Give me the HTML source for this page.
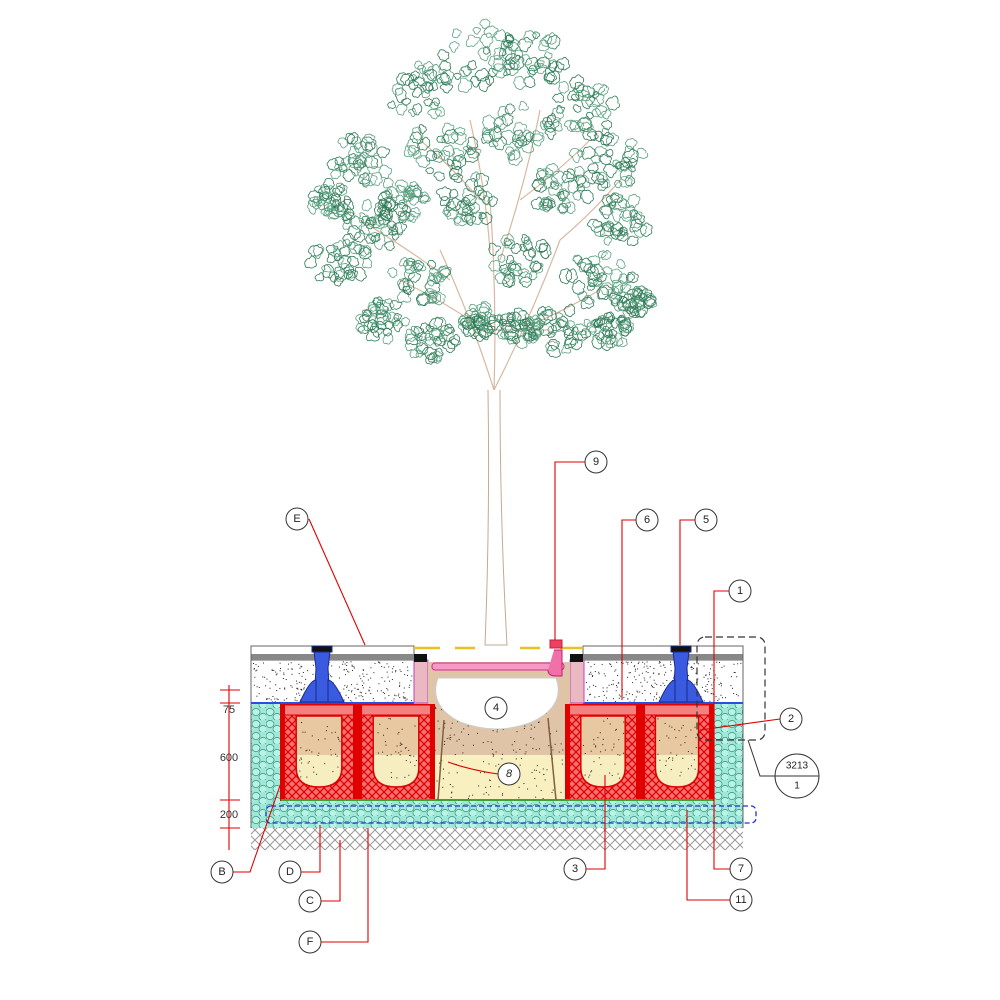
<!DOCTYPE html>
<html><head><meta charset="utf-8"><style>
html,body{margin:0;padding:0;background:#fff;width:1000px;height:1000px;overflow:hidden}
svg{display:block}
text{font-family:"Liberation Sans",sans-serif;font-size:11px;fill:#222;text-anchor:middle;dominant-baseline:central}
</style></head><body>
<svg id="s" width="1000" height="1000" viewBox="0 0 1000 1000" xmlns="http://www.w3.org/2000/svg">
<defs>
<pattern id="hatch" width="10" height="10" patternUnits="userSpaceOnUse">
<rect width="10" height="10" fill="#fff"/>
<path d="M0 5 L5 0 M5 10 L10 5 M0 5 L5 10 M5 0 L10 5" stroke="#999" stroke-width="1" fill="none"/>
</pattern>
<pattern id="grav" width="14" height="12" patternUnits="userSpaceOnUse">
<rect width="14" height="12" fill="#9ee8d8"/>
<ellipse cx="4" cy="4" rx="4" ry="3.5" fill="#b8f3e6" stroke="#3a8f7a" stroke-width="0.7"/>
<ellipse cx="11" cy="9" rx="4" ry="3.5" fill="#b8f3e6" stroke="#3a8f7a" stroke-width="0.7"/>
</pattern>
<pattern id="crate" width="8" height="8" patternUnits="userSpaceOnUse">
<rect width="8" height="8" fill="#f27070"/>
<path d="M0 0L8 8M8 0L0 8" stroke="#e00000" stroke-width="1.2"/>
</pattern>
</defs>
<g id="tree"></g>
<rect x="251" y="828" width="492" height="22" fill="url(#hatch)"/>
<rect x="251" y="703" width="30" height="125" fill="url(#grav)"/>
<rect x="713" y="703" width="30" height="125" fill="url(#grav)"/>
<rect x="251" y="800" width="492" height="28" fill="url(#grav)"/>
<rect x="280" y="703" width="433" height="52" fill="#e0c4a8"/>
<rect x="280" y="755" width="433" height="45" fill="#f8f0c0"/>
<rect x="251" y="660" width="163" height="43" fill="#fff"/>
<rect x="583" y="660" width="160" height="43" fill="#fff"/>
<g id="dots"></g>
<g id="crates"></g>
<rect x="251" y="646" width="163" height="14" fill="#fff" stroke="#666" stroke-width="1"/>
<rect x="251" y="654" width="163" height="6" fill="#888"/>
<rect x="583" y="646" width="160" height="14" fill="#fff" stroke="#666" stroke-width="1"/>
<rect x="583" y="654" width="160" height="6" fill="#888"/>
<line x1="251" y1="646" x2="251" y2="828" stroke="#666"/>
<line x1="743" y1="646" x2="743" y2="828" stroke="#666"/>
<line x1="251" y1="703" x2="414" y2="703" stroke="#2a4fe0" stroke-width="2"/>
<line x1="583" y1="703" x2="743" y2="703" stroke="#2a4fe0" stroke-width="2"/>
<line x1="281" y1="800" x2="713" y2="800" stroke="#3aa040" stroke-width="2"/>
<rect x="266" y="806" width="490" height="17" rx="5" fill="none" stroke="#2233cc" stroke-width="1.3" stroke-dasharray="5,3"/>
<g fill="#3a5ae0" stroke="#1a2a90" stroke-width="1">
<rect x="312" y="646" width="20" height="6" fill="#111"/>
<path d="M314 652 L330 652 L328 668 L330 702 L314 702 L316 668Z"/>
<path d="M300 702 Q310 680 316 680 L316 702Z"/><path d="M344 702 Q334 680 328 680 L328 702Z"/>
<rect x="671" y="646" width="20" height="6" fill="#111"/>
<path d="M673 652 L689 652 L687 668 L689 702 L673 702 L675 668Z"/>
<path d="M659 702 Q669 680 675 680 L675 702Z"/><path d="M703 702 Q693 680 687 680 L687 702Z"/>
</g>
<rect x="414" y="660" width="14" height="43" fill="#e9b8c0" stroke="#c040c0"/>
<rect x="570" y="660" width="14" height="43" fill="#e9b8c0" stroke="#c040c0"/>
<rect x="414" y="654" width="13" height="8" fill="#111"/>
<rect x="570" y="654" width="13" height="8" fill="#111"/>
<rect x="428" y="662" width="142" height="41" fill="#e0c4a8"/>
<path d="M414 648 L440 648 M455 648 L475 648 M520 648 L540 648 M560 648 L583 648" stroke="#e8c020" stroke-width="2.5"/>
<rect x="432" y="663" width="132" height="7" rx="3" fill="#f59ac8" stroke="#d0308a"/>
<path d="M548 670 Q548 676 556 676 L562 676 L562 650 L554 650" fill="#f070a8" stroke="#c02070"/>
<rect x="550" y="640" width="12" height="8" fill="#f04060" stroke="#c02040"/>
<path d="M438 678 L556 678 Q566 706 532 722 Q496 736 460 722 Q428 706 438 678Z" fill="#fff" stroke="#ccc"/>
<path d="M444 720 L438 800 M548 718 L556 800" stroke="#806040" stroke-width="1.5"/>
<path d="M488 390 Q490 520 485 645 L507 645 Q500 520 500 390" fill="#fff" stroke="#c8a890" stroke-width="1"/>
<rect x="697" y="637" width="68" height="103" rx="8" fill="none" stroke="#333" stroke-dasharray="7,4" stroke-width="1.2"/>
<g stroke="#e00000" stroke-width="1.1" fill="none">
<path d="M309 519 L365 645"/>
<path d="M585 462 L555 462 L555 640"/>
<path d="M636 520 L622 520 L622 700"/>
<path d="M695 520 L680 520 L680 645"/>
<path d="M729 591 L714 591 L714 869 L730 869"/>
<path d="M780 719 L700 730"/>
<path d="M586 869 L605 869 L605 775"/>
<path d="M730 900 L687 900 L687 810"/>
<path d="M233 872 L250 872 L282 780"/>
<path d="M301 872 L320 872 L320 825"/>
<path d="M321 901 L340 901 L340 840"/>
<path d="M321 942 L368 942 L368 828"/>
<path d="M498 774 Q470 770 448 762"/>
<path d="M229 685 L229 850"/>
<path d="M220 690 L240 690 M220 703 L240 703 M220 800 L240 800 M220 828 L240 828"/>
</g>
<g stroke="#333" fill="none"><path d="M748 740 L760 776 L775 776"/></g>
<text x="229" y="710" style="fill:#333">75</text>
<text x="229" y="758" style="fill:#333">600</text>
<text x="229" y="815" style="fill:#333">200</text>
<circle cx="797" cy="776" r="22" fill="#fff" stroke="#333"/>
<line x1="775" y1="776" x2="819" y2="776" stroke="#333"/>
<text x="797" y="766" style="font-size:10px">3213</text>
<text x="797" y="786" style="font-size:10px">1</text>
</svg>
<script>
var NS="http://www.w3.org/2000/svg";
function el(p,t,a){var e=document.createElementNS(NS,t);for(var k in a)e.setAttribute(k,a[k]);p.appendChild(e);return e;}
var seed=7;function r(){seed=(seed*16807)%2147483647;return seed/2147483647;}
var tr=document.getElementById("tree");
var br=[[494,390,440,250],[494,390,560,240],[470,320,400,280],[520,330,600,290],[494,390,490,200],[490,250,470,120],[500,260,540,110],[450,280,360,220],[560,240,620,180],[480,200,420,140],[520,200,590,140],[494,330,550,330]];
br.forEach(function(b){el(tr,"path",{d:"M"+b[0]+" "+b[1]+" Q"+((b[0]+b[2])/2+5)+" "+((b[1]+b[3])/2)+" "+b[2]+" "+b[3],stroke:"#d8b8a0","stroke-width":1.2,fill:"none"});});
var cl=[[480,55,40],[530,60,35],[420,90,35],[580,110,35],[360,160,30],[610,160,35],[440,150,35],[520,130,35],[380,220,35],[620,220,30],[470,200,30],[560,190,30],[340,260,30],[600,280,35],[420,280,30],[520,260,30],[380,320,25],[560,330,30],[430,340,25],[480,320,20],[630,300,20],[330,200,20],[610,330,20],[400,200,25],[520,330,20]];
cl.forEach(function(c){for(var i=0;i<34;i++){var a=r()*6.28,d=Math.sqrt(r())*c[2];var x=c[0]+Math.cos(a)*d,y=c[1]+Math.sin(a)*d*0.8;
var rad=3+r()*3;var pts="M"+(x+rad).toFixed(1)+" "+y.toFixed(1);
for(var j=1;j<=7;j++){var an=j/7*6.28;var rr=rad*(0.7+r()*0.6);pts+=" Q"+(x+Math.cos(an-0.45)*rr*1.4).toFixed(1)+" "+(y+Math.sin(an-0.45)*rr*1.4).toFixed(1)+" "+(x+Math.cos(an)*rr).toFixed(1)+" "+(y+Math.sin(an)*rr).toFixed(1);}
el(tr,"path",{d:pts,stroke:r()<0.5?"#2f7a55":"#5aa080","stroke-width":0.8,fill:"none"});}});
var dg=document.getElementById("dots");
function dots(x,y,w,h,n){for(var i=0;i<n;i++)el(dg,"rect",{x:x+r()*w,y:y+r()*h,width:1,height:1,fill:"#222"});}
dots(252,661,160,41,260);dots(584,661,158,41,260);dots(282,704,430,95,600);dots(429,680,140,22,80);
var cg=document.getElementById("crates");
[[281,357],[358,434],[566,640],[641,713]].forEach(function(c){var x=c[0],w=c[1]-c[0];
el(cg,"rect",{x:x,y:705,width:w,height:95,fill:"url(#crate)",stroke:"#e00000","stroke-width":2});
el(cg,"rect",{x:x,y:705,width:w,height:10,fill:"#f48080",stroke:"#e00000"});
var cx=x+w/2,cw=w*0.3;
el(cg,"path",{d:"M"+(cx-cw)+" 716 L"+(cx-cw)+" 768 Q"+(cx-cw)+" 787 "+cx+" 787 Q"+(cx+cw)+" 787 "+(cx+cw)+" 768 L"+(cx+cw)+" 716Z",fill:"#e8c8a0",stroke:"#e00000","stroke-width":1.5});
el(cg,"path",{d:"M"+(cx-cw+1)+" 755 L"+(cx-cw+1)+" 768 Q"+(cx-cw+1)+" 786 "+cx+" 786 Q"+(cx+cw-1)+" 786 "+(cx+cw-1)+" 768 L"+(cx+cw-1)+" 755Z",fill:"#f6eec0"});
el(cg,"rect",{x:c[1]-4,y:705,width:4,height:95,fill:"#e00000"});
el(cg,"rect",{x:x,y:705,width:4,height:95,fill:"#e00000"});
for(var i=0;i<40;i++)el(cg,"rect",{x:cx-cw+2+r()*(cw*2-4),y:718+r()*60,width:1,height:1,fill:"#222"});
});
var L=[["E",297,519],["9",596,462],["6",647,520],["5",706,520],["1",740,591],["2",791,719],["4",496,708],["8",509,774],["B",222,872],["D",290,872],["C",310,901],["3",575,869],["7",741,869],["11",741,900],["F",310,942]];
var s=document.getElementById("s");
L.forEach(function(l){el(s,"circle",{cx:l[1],cy:l[2],r:11,fill:"#fff",stroke:"#333","stroke-width":1});var t=el(s,"text",{x:l[1],y:l[2]});t.textContent=l[0];if(l[0]=="8")t.setAttribute("style","font-style:italic");});
</script>
</body></html>
